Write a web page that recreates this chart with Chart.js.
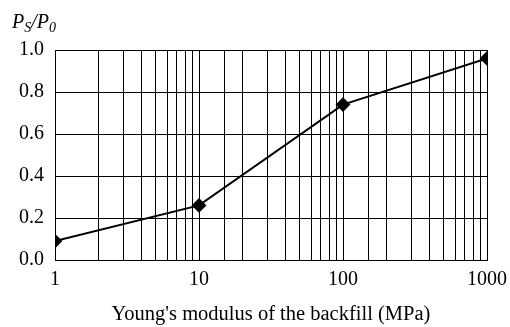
<!DOCTYPE html>
<html lang="en">
<head>
    <meta charset="UTF-8">
    <title>Ps/P0 vs Young's modulus</title>
    <script src="https://cdn.jsdelivr.net/npm/chart.js"></script>
    <style>
        body { margin: 0; background: #fff; }
        #wrap { width: 510px; height: 327px; }
    </style>
</head>
<body>
<div id="wrap"><canvas id="modulusChart" width="510" height="327"></canvas></div>
<script>
    // Young's modulus of the backfill (MPa) and pressure ratio Ps/P0
    const modulus = [1, 10, 100, 1000];
    const pressureRatio = [0.09, 0.26, 0.74, 0.96];
    const xTickLabels = [1, 10, 100, 1000];
    const yTickLabels = [0.0, 0.2, 0.4, 0.6, 0.8, 1.0];

    const serif = '"Liberation Serif", "Times New Roman", serif';

    // draws the italic Ps/P0 label above the y axis
    const axisLabel = {
        id: 'axisLabel',
        afterDraw(chart) {
            const ctx = chart.ctx;
            ctx.save();
            ctx.fillStyle = '#000';
            ctx.textBaseline = 'alphabetic';
            let x = 12;
            const y = 28;
            ctx.font = 'italic 20px ' + serif;
            ctx.fillText('P', x, y);
            x += ctx.measureText('P').width;
            ctx.font = 'italic 14px ' + serif;
            ctx.fillText('S', x, y + 4);
            x += ctx.measureText('S').width;
            ctx.font = 'italic 20px ' + serif;
            ctx.fillText('/P', x, y);
            x += ctx.measureText('/P').width;
            ctx.font = 'italic 14px ' + serif;
            ctx.fillText('0', x, y + 4);
            ctx.restore();
        }
    };

    new Chart(document.getElementById('modulusChart'), {
        type: 'scatter',
        data: {
            datasets: [{
                data: modulus.map((m, i) => ({ x: m, y: pressureRatio[i] })),
                showLine: true,
                borderColor: '#000',
                borderWidth: 2,
                pointStyle: 'rectRot',
                pointRadius: 6,
                pointBackgroundColor: '#000',
                pointBorderColor: '#000'
            }]
        },
        options: {
            responsive: false,
            animation: false,
            layout: { padding: { top: 50, right: 23, left: 0, bottom: 0 } },
            plugins: { legend: { display: false }, tooltip: { enabled: false } },
            scales: {
                x: {
                    type: 'logarithmic',
                    min: 1,
                    max: 1000,
                    afterFit(scale) {
                        scale.height = 67;
                        // keep the "1000" label from shrinking the plot
                        scale.paddingRight = 0;
                        scale.paddingLeft = 0;
                    },
                    grid: { color: '#000', lineWidth: 1, drawTicks: false },
                    border: { color: '#000', width: 1 },
                    ticks: {
                        color: '#000',
                        padding: 8,
                        maxRotation: 0,
                        autoSkip: false,
                        font: { family: serif, size: 20 },
                        callback: v => xTickLabels.includes(v) ? String(v) : ''
                    },
                    title: {
                        display: true,
                        text: "Young's modulus of the backfill (MPa)",
                        color: '#000',
                        font: { family: serif, size: 20.5 },
                        padding: { top: 4, bottom: 0 }
                    }
                },
                y: {
                    min: 0,
                    max: 1,
                    afterFit(scale) { scale.width = 55; },
                    afterBuildTicks(scale) { scale.ticks = yTickLabels.map(v => ({ value: v })); },
                    grid: { color: '#000', lineWidth: 1, drawTicks: false },
                    border: { color: '#000', width: 1 },
                    ticks: {
                        color: '#000',
                        padding: 11,
                        font: { family: serif, size: 20 },
                        callback: v => v.toFixed(1)
                    }
                }
            }
        },
        plugins: [axisLabel]
    });
</script>
</body>
</html>
